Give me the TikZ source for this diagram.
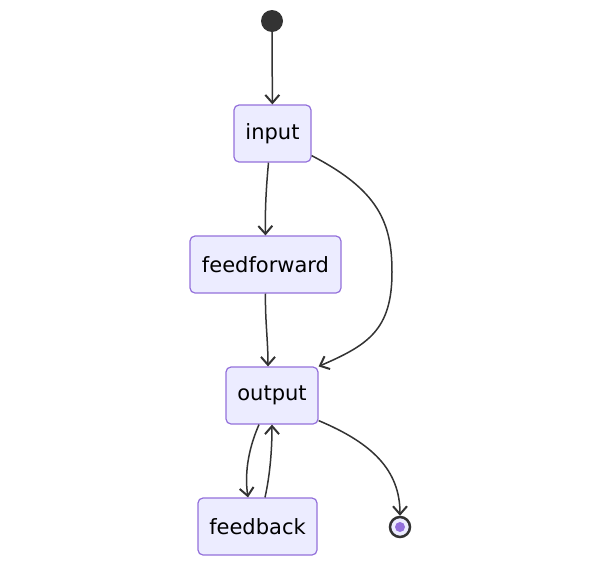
\documentclass[tikz,border=0pt]{standalone}
\usepackage{fontspec}
\setmainfont{DejaVu Sans}
\usetikzlibrary{arrows.meta}
\definecolor{boxfill}{HTML}{ECECFF}
\definecolor{boxline}{HTML}{9370DB}
\definecolor{edge}{HTML}{333333}
\begin{document}
\begin{tikzpicture}[x=1pt,y=-1pt]
\tikzstyle{every node}+=[inner sep=0pt]
\tikzstyle{state}=[draw=boxline,fill=boxfill,line width=1.2pt,rounded corners=5pt,minimum height=57pt,font=\fontsize{21}{25}\selectfont]
\tikzstyle{trans}=[draw=edge,line width=1.5pt,-{Straight Barb[length=8pt,width=14pt,line width=2pt]}]
\useasboundingbox (0,0) rectangle (600,568);
\node [circle,fill=edge,minimum size=22pt] (init) at (272,21) {};
\node [state,minimum width=77pt] (input) at (272.5,133.5) {input};
\node [state,minimum width=151pt] (feedforward) at (265.5,264.5) {feedforward};
\node [state,minimum width=92pt] (output) at (272,395.5) {output};
\node [state,minimum width=119pt] (feedback) at (257.5,526.5) {feedback};
\node [circle,draw=edge,line width=2.5pt,fill=boxfill,minimum size=20pt] (final) at (400,527) {};
\node [circle,fill=boxline,minimum size=10pt] at (final) {};
\draw [trans] (init) -- (input);
\draw [trans] ([xshift=-4pt]input.south) .. controls (266,190) and (265,210) .. (feedforward.north);
\draw [trans] ([yshift=7pt]input.south east) .. controls (378,190) and (392,222) .. (392,272) .. controls (392,330) and (368,345) .. (output.north east);
\draw [trans] (feedforward.south) .. controls (265,320) and (268,340) .. ([xshift=-4pt]output.north);
\draw [trans] ([xshift=-13pt]output.south) .. controls (250,445) and (244,470) .. ([xshift=-9.5pt]feedback.north);
\draw [trans] ([xshift=7.5pt]feedback.north) .. controls (270,475) and (272,450) .. (output.south);
\draw [trans] ([yshift=4pt]output.south east) .. controls (372,443) and (400,470) .. (final.north);
\end{tikzpicture}
\end{document}
